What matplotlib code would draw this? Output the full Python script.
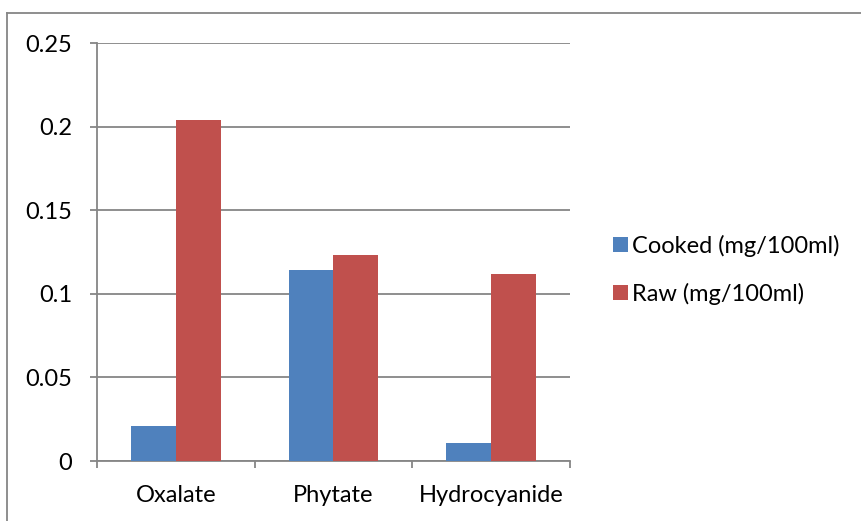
import numpy as np
import matplotlib.pyplot as plt
from matplotlib.lines import Line2D

categories = ["Oxalate", "Phytate", "Hydrocyanide"]
cooked = [0.021, 0.114, 0.011]
raw = [0.204, 0.123, 0.112]
series_names = ["Cooked (mg/100ml)", "Raw (mg/100ml)"]
yticks = [0, 0.05, 0.1, 0.15, 0.2, 0.25]
ytick_labels = ["0", "0.05", "0.1", "0.15", "0.2", "0.25"]

plt.rcParams['font.family'] = ['Lato', 'DejaVu Sans']
grid_col = '#868686'
fs = 17

fig = plt.figure(figsize=(8.62, 5.21), dpi=100)
ax = fig.add_axes([97/862, 1 - 461/521, (570 - 97)/862, (461 - 43)/521])

x = np.arange(len(categories))
w = 0.285
ax.bar(x - w/2, cooked, w, color='#4F81BD', label=series_names[0], zorder=3)
ax.bar(x + w/2, raw, w, color='#C0504D', label=series_names[1], zorder=3)

ax.set_xlim(-0.5, 2.5)
ax.set_ylim(0, 0.25)
ax.set_yticks(yticks)
ax.set_yticklabels(ytick_labels)
ax.yaxis.grid(True, color=grid_col, linewidth=1.3, zorder=0)

# category labels centred, ticks at the boundaries
ax.set_xticks(x)
ax.set_xticklabels(categories)
ax.set_xticks([-0.5, 0.5, 1.5, 2.5], minor=True)
ax.tick_params(axis='x', which='major', length=0, pad=17, labelsize=fs)
ax.tick_params(axis='x', which='minor', length=5, width=1.3, color=grid_col)
ax.tick_params(axis='y', length=5, width=1.3, color=grid_col, pad=13, labelsize=fs)

for s in ['top', 'right']:
    ax.spines[s].set_visible(False)
for s in ['left', 'bottom']:
    ax.spines[s].set_color(grid_col)
    ax.spines[s].set_linewidth(1.3)

fig.legend(loc='center left', bbox_to_anchor=(0.686, 0.482), frameon=False,
           fontsize=fs, handlelength=0.64, handleheight=0.64, handletextpad=0.2,
           labelspacing=1.1)

# chart area outline (top and left edges)
fig.add_artist(Line2D([7/862, 7/862], [0, 1 - 13/521], transform=fig.transFigure,
                      color=grid_col, linewidth=1.3))
fig.add_artist(Line2D([7/862, 1], [1 - 13/521, 1 - 13/521], transform=fig.transFigure,
                      color=grid_col, linewidth=1.3))

fig.savefig('out.png', dpi=100)
